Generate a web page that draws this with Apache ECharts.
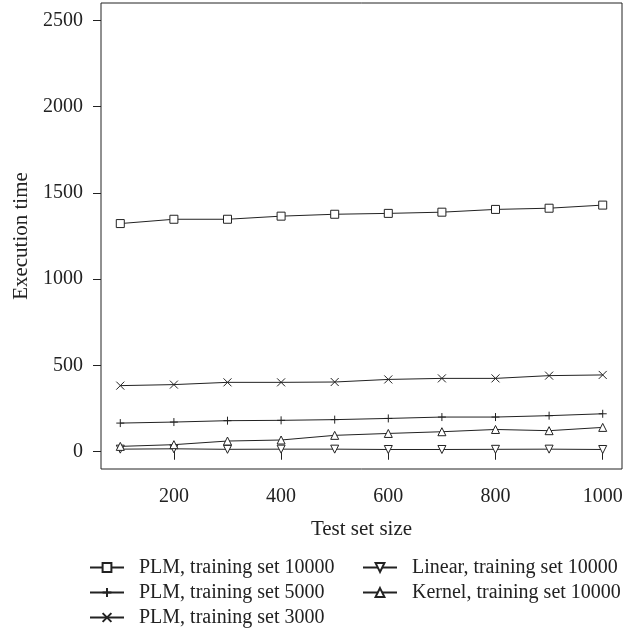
<!DOCTYPE html>
<html>
<head>
<meta charset="utf-8">
<script src="https://cdn.jsdelivr.net/npm/echarts@6/dist/echarts.min.js"></script>
<style>
  html, body { margin: 0; padding: 0; background: #fff; }
  #chart { width: 627px; height: 633px; }
</style>
</head>
<body>
<div id="chart"></div>
<script>
const testSizes = [100, 200, 300, 400, 500, 600, 700, 800, 900, 1000];
const plm10000 = [1322, 1347, 1347, 1365, 1376, 1381, 1388, 1404, 1411, 1429];
const plm5000 = [166, 172, 180, 182, 186, 193, 201, 201, 209, 220];
const plm3000 = [383, 389, 402, 402, 404, 419, 425, 425, 441, 445];
const linear10000 = [15, 17, 14, 15, 15, 13, 13, 14, 15, 13];
const kernel10000 = [31, 41, 62, 68, 95, 106, 116, 129, 122, 141];
const xTicks = [200, 400, 600, 800, 1000];
const yTicks = [0, 500, 1000, 1500, 2000, 2500];

const FONT = "'Liberation Serif', 'DejaVu Serif', serif";
const plusPath = "path://M5,0L5,10M0,5L10,5";
const crossPath = "path://M0,0L10,10M0,10L10,0";

function pairs(values) {
  return testSizes.map((x, i) => [x, values[i]]);
}

function makeSeries(name, values, symbol, rotate) {
  return {
    name: name,
    type: "line",
    data: pairs(values),
    symbol: symbol,
    symbolSize: 8,
    symbolRotate: rotate || 0,
    showAllSymbol: true,
    lineStyle: { color: "#222", width: 1 },
    itemStyle: { color: "#fff", borderColor: "#222", borderWidth: 1 },
    emphasis: { disabled: true },
    animation: false,
  };
}

const legendBase = {
  orient: "vertical",
  top: 555,
  itemWidth: 34,
  itemHeight: 11,
  itemGap: 0,
  padding: 0,
  selectedMode: false,
  textStyle: { fontFamily: FONT, fontSize: 20, color: "#222", lineHeight: 25, padding: [0, 0, 0, 10] },
};

const chart = echarts.init(document.getElementById("chart"));
chart.setOption({
  backgroundColor: "#fff",
  textStyle: { fontFamily: FONT, color: "#222" },
  grid: {
    left: 101, right: 5, top: 3, bottom: 164,
    show: true, borderColor: "#222", borderWidth: 1, backgroundColor: "transparent",
  },
  xAxis: {
    type: "value",
    min: 64,
    max: 1036,
    name: "Test set size",
    nameLocation: "middle",
    nameGap: 50,
    nameTextStyle: { fontFamily: FONT, fontSize: 21, color: "#222" },
    axisLine: { show: false },
    splitLine: { show: false },
    axisTick: { show: true, length: 8, customValues: xTicks, lineStyle: { color: "#222" } },
    axisLabel: {
      customValues: xTicks, margin: 18, fontFamily: FONT, fontSize: 20, color: "#222",
      formatter: (v) => String(v),
    },
  },
  yAxis: {
    type: "value",
    min: -100,
    max: 2600,
    name: "Execution time",
    nameLocation: "middle",
    nameGap: 65,
    nameTextStyle: { fontFamily: FONT, fontSize: 21, color: "#222" },
    axisLine: { show: false },
    splitLine: { show: false },
    axisTick: { show: true, length: 8, customValues: yTicks, lineStyle: { color: "#222" } },
    axisLabel: {
      customValues: yTicks, margin: 18, fontFamily: FONT, fontSize: 20, color: "#222",
      formatter: (v) => String(v),
    },
  },
  legend: [
    Object.assign({}, legendBase, {
      left: 89,
      data: ["PLM, training set 10000", "PLM, training set 5000", "PLM, training set 3000"],
    }),
    Object.assign({}, legendBase, {
      left: 362,
      data: ["Linear, training set 10000", "Kernel, training set 10000"],
    }),
  ],
  series: [
    makeSeries("PLM, training set 10000", plm10000, "rect"),
    makeSeries("PLM, training set 5000", plm5000, plusPath),
    makeSeries("PLM, training set 3000", plm3000, crossPath),
    makeSeries("Linear, training set 10000", linear10000, "triangle", 180),
    makeSeries("Kernel, training set 10000", kernel10000, "triangle"),
  ],
});
</script>
</body>
</html>
